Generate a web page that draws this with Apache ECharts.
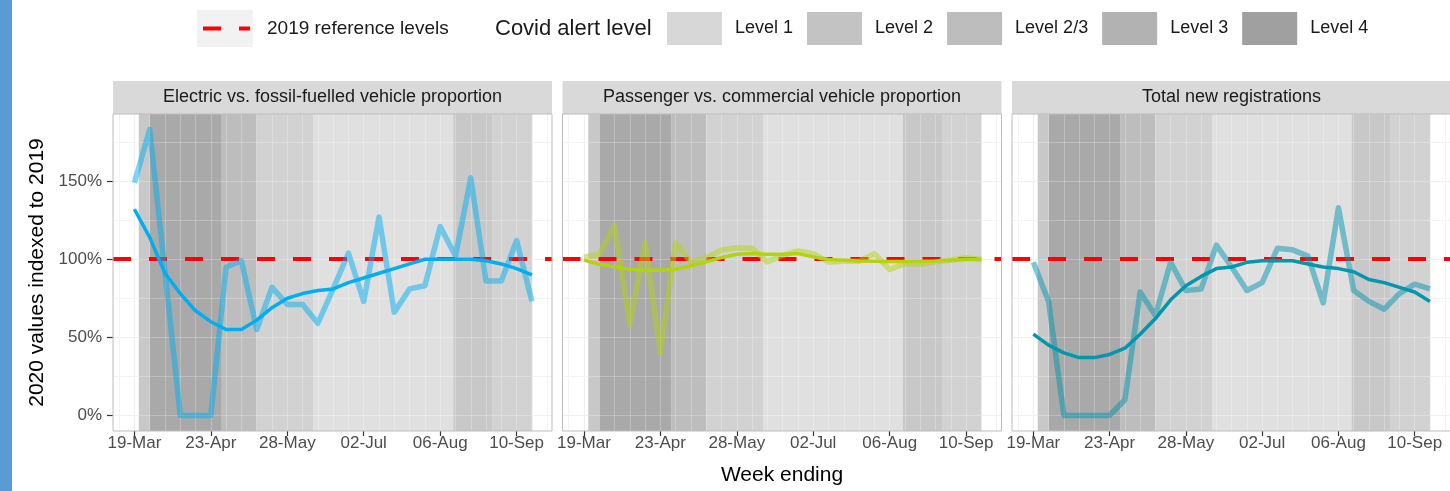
<!DOCTYPE html>
<html>
<head>
<meta charset="utf-8">
<script src="https://cdn.jsdelivr.net/npm/echarts@6/dist/echarts.min.js"></script>
<style>
  html, body { margin: 0; padding: 0; background: #fff; }
  #chart { width: 1450px; height: 491px; }
</style>
</head>
<body>
<div id="chart"></div>
<script>
// weekly observations, week ending dates
const weekEnding = [
  '2020-03-19', '2020-03-26', '2020-04-02', '2020-04-09', '2020-04-16', '2020-04-23',
  '2020-04-30', '2020-05-07', '2020-05-14', '2020-05-21', '2020-05-28', '2020-06-04',
  '2020-06-11', '2020-06-18', '2020-06-25', '2020-07-02', '2020-07-09', '2020-07-16',
  '2020-07-23', '2020-07-30', '2020-08-06', '2020-08-13', '2020-08-20', '2020-08-27',
  '2020-09-03', '2020-09-10', '2020-09-17'
]
const tickDates = ['2020-03-19', '2020-04-23', '2020-05-28', '2020-07-02', '2020-08-06', '2020-09-10']

const panelTitles = [
  'Electric vs. fossil-fuelled vehicle proportion',
  'Passenger vs. commercial vehicle proportion',
  'Total new registrations'
]

// 2020 values indexed to 2019 (%)
const evWeekly = [149, 183, 92, 0, 0, 0, 95, 99, 55, 82, 71, 71, 59, 81, 104, 73, 127, 66, 81, 83, 121, 102, 152, 86, 86, 112, 73]
const evTrend = [132, 114, 91, 78, 67, 60, 55, 55, 61, 69, 75, 78, 80, 81, 85, 88, 91, 94, 97, 100, 100, 100, 100, 99, 97, 94, 90]
const paxWeekly = [101.5, 103, 121.6, 58, 110.4, 40, 110.4, 98, 101, 106, 107.4, 107, 98.3, 102.5, 105.3, 103.6, 98.3, 98.7, 98.7, 103.6, 93.4, 97.2, 96.8, 98.3, 99.4, 101, 99.8]
const paxTrend = [99.4, 96.8, 95.1, 93.6, 93, 93, 93.6, 95.8, 98.3, 101.1, 103.2, 103.6, 103.2, 103.2, 103.6, 101.5, 99.8, 99.4, 98.9, 98.7, 98.5, 98.5, 98.7, 98.9, 99.4, 99.8, 100]
const totalWeekly = [98, 73, 0, 0, 0, 0, 10, 79, 64, 98, 80, 81, 109, 95, 80, 85, 107, 106, 102, 72, 133, 80, 73, 68, 78, 84, 81]
const totalTrend = [52, 45, 40, 37, 37, 39, 43, 52, 62, 74, 83, 89, 94, 95, 98, 99, 99, 99, 97, 95, 94, 92, 87, 85, 82, 79, 73]

const referenceLevel = 100

// covid alert level periods
const levelNames = ['Level 1', 'Level 2', 'Level 2/3', 'Level 3', 'Level 4']
const alertStart = ['2020-03-21', '2020-03-26', '2020-04-28', '2020-05-14', '2020-06-09', '2020-08-12', '2020-08-30']
const alertEnd = ['2020-03-26', '2020-04-28', '2020-05-14', '2020-06-09', '2020-08-12', '2020-08-30', '2020-09-17']
const alertLevel = ['Level 2/3', 'Level 4', 'Level 3', 'Level 2', 'Level 1', 'Level 2/3', 'Level 2']

const yLabels = [0, 50, 100, 150]
const yMinor = [25, 75, 125, 175]

// ---- styling ----
const FONT = '"Liberation Sans", Arial, sans-serif'
const shadeInPanel = { 'Level 1': '#e0e0e0', 'Level 2': '#d2d2d2', 'Level 2/3': '#c8c8c8', 'Level 3': '#bdbdbd', 'Level 4': '#a9a9a9' }
const shadeInLegend = { 'Level 1': '#d7d7d7', 'Level 2': '#c3c3c3', 'Level 2/3': '#bdbdbd', 'Level 3': '#b2b2b2', 'Level 4': '#a0a0a0' }
const lineColors = ['#00aef0', '#b4d30f', '#0096ad']

const panelLeft = [113, 562.5, 1012]
const PANEL_W = 439
const PANEL_TOP = 114
const PANEL_H = 317
const STRIP_H = 33
const X_MIN = -9.8, X_MAX = 191.2
const Y_MIN = -10, Y_MAX = 193

const t0 = Date.parse(weekEnding[0])
const dayOf = (d) => (Date.parse(d) - t0) / 864e5
const months = ['Jan', 'Feb', 'Mar', 'Apr', 'May', 'Jun', 'Jul', 'Aug', 'Sep', 'Oct', 'Nov', 'Dec']
const fmtDay = (v) => {
  const d = new Date(t0 + Math.round(v) * 864e5)
  return String(d.getUTCDate()).padStart(2, '0') + '-' + months[d.getUTCMonth()]
}

const weekDays = weekEnding.map(dayOf)
const tickDays = tickDates.map(dayOf)
const gridDays = []
for (let d = -7; d <= X_MAX; d += 7) gridDays.push(d)
const minorDays = gridDays.filter((d) => !tickDays.includes(d))

const panelData = [
  [evWeekly, evTrend],
  [paxWeekly, paxTrend],
  [totalWeekly, totalTrend]
]

const chart = echarts.init(document.getElementById('chart'))

const grids = panelLeft.map((left) => ({ left, top: PANEL_TOP, width: PANEL_W, height: PANEL_H }))

const xAxes = []
const yAxes = []
const hidden = { axisLine: { show: false, onZero: false }, axisLabel: { show: false } }

panelLeft.forEach((_, i) => {
  const xb = { gridIndex: i, type: 'value', position: 'bottom', min: X_MIN, max: X_MAX, ...hidden }
  const yb = { gridIndex: i, type: 'value', position: 'left', min: Y_MIN, max: Y_MAX, ...hidden }

  // main x axis: ticks, labels, major grid
  xAxes.push({
    ...xb,
    z: 0,
    name: i === 1 ? 'Week ending' : '',
    nameLocation: 'middle',
    nameGap: 34,
    nameTextStyle: { fontFamily: FONT, fontSize: 21, color: '#000' },
    axisTick: { show: true, customValues: tickDays, length: 5, lineStyle: { color: '#333', width: 1.2 } },
    axisLabel: { show: true, customValues: tickDays, formatter: fmtDay, margin: 4, fontFamily: FONT, fontSize: 17, color: '#4d4d4d' },
    splitLine: { show: true, lineStyle: { color: '#ebebeb', width: 1.2 } }
  })
  xAxes.push({
    ...xb, z: 0,
    axisTick: { show: false, customValues: minorDays },
    splitLine: { show: true, lineStyle: { color: '#ebebeb', width: 0.8 } }
  })
  // grid lines drawn over the alert level shading
  xAxes.push({
    ...xb, z: 1.5,
    axisTick: { show: false, customValues: gridDays },
    splitLine: { show: true, lineStyle: { color: 'rgba(255,255,255,0.25)', width: 1 } }
  })

  yAxes.push({
    ...yb,
    z: 0,
    name: i === 0 ? '2020 values indexed to 2019' : '',
    nameLocation: 'middle',
    nameGap: 65,
    nameRotate: 90,
    nameTextStyle: { fontFamily: FONT, fontSize: 21, color: '#000' },
    axisTick: { show: i === 0, customValues: yLabels, length: 6, lineStyle: { color: '#333', width: 1.2 } },
    axisLabel: { show: i === 0, customValues: yLabels, formatter: (v) => v + '%', margin: 11, fontFamily: FONT, fontSize: 17, color: '#4d4d4d' },
    splitLine: { show: true, lineStyle: { color: '#ebebeb', width: 1.2 } }
  })
  yAxes.push({
    ...yb, z: 0,
    axisTick: { show: false, customValues: yMinor },
    splitLine: { show: true, lineStyle: { color: '#ebebeb', width: 0.8 } }
  })
  yAxes.push({
    ...yb, z: 1.5,
    axisTick: { show: false, customValues: yLabels.concat(yMinor) },
    splitLine: { show: true, lineStyle: { color: 'rgba(255,255,255,0.25)', width: 1 } }
  })
})

const series = []
panelLeft.forEach((_, i) => {
  const axes = { xAxisIndex: 3 * i, yAxisIndex: 3 * i }

  levelNames.forEach((level) => {
    const areas = []
    alertLevel.forEach((lv, k) => {
      if (lv === level) areas.push([{ xAxis: dayOf(alertStart[k]) }, { xAxis: dayOf(alertEnd[k]) }])
    })
    series.push({
      ...axes,
      type: 'line',
      name: level,
      data: [],
      z: 1,
      itemStyle: { color: shadeInLegend[level] },
      lineStyle: { color: shadeInLegend[level] },
      markArea: { silent: true, z: 1, itemStyle: { color: shadeInPanel[level], opacity: 1 }, data: areas }
    })
  })

  series.push({
    ...axes,
    type: 'line',
    name: '2019 reference levels',
    data: [],
    z: 1.8,
    markLine: {
      silent: true,
      z: 1.8,
      symbol: 'none',
      label: { show: false },
      lineStyle: { color: '#ff0000', width: 4, type: [18, 18], opacity: 1 },
      data: [{ yAxis: referenceLevel }]
    }
  })

  const [weekly, trend] = panelData[i]
  series.push({
    ...axes,
    type: 'line',
    name: panelTitles[i] + ' (weekly)',
    data: weekDays.map((d, k) => [d, weekly[k]]),
    symbol: 'none',
    z: 2,
    lineStyle: { color: lineColors[i], width: 5.5, opacity: 0.5, join: 'round' }
  })
  series.push({
    ...axes,
    type: 'line',
    name: panelTitles[i] + ' (trend)',
    data: weekDays.map((d, k) => [d, trend[k]]),
    symbol: 'none',
    z: 3,
    lineStyle: { color: lineColors[i], width: 3.5, join: 'round' }
  })
})

const graphics = [
  { type: 'rect', left: 0, top: 0, shape: { width: 12, height: 491 }, style: { fill: '#5b9bd5' } }
]
panelLeft.forEach((left, i) => {
  graphics.push({
    type: 'rect', z: 10,
    shape: { x: left, y: PANEL_TOP - STRIP_H, width: PANEL_W, height: STRIP_H },
    style: { fill: '#d9d9d9' }
  })
  graphics.push({
    type: 'text', z: 11,
    style: {
      x: left + PANEL_W / 2, y: PANEL_TOP - STRIP_H / 2, text: panelTitles[i],
      align: 'center', verticalAlign: 'middle', font: '18px ' + FONT, fill: '#1a1a1a'
    }
  })
  graphics.push({
    type: 'rect', z: 10, silent: true,
    shape: { x: left, y: PANEL_TOP, width: PANEL_W, height: PANEL_H },
    style: { fill: 'none', stroke: '#bdbdbd', lineWidth: 1 }
  })
})
// legend for the reference line and the title of the alert level legend
graphics.push(
  { type: 'rect', z: 10, shape: { x: 197, y: 10, width: 56, height: 37 }, style: { fill: '#f2f2f2' } },
  { type: 'line', z: 11, shape: { x1: 203, y1: 28.5, x2: 250, y2: 28.5 }, style: { stroke: '#ff0000', lineWidth: 4, lineDash: [18, 18] } },
  { type: 'text', z: 11, style: { x: 267, y: 29, text: '2019 reference levels', verticalAlign: 'middle', font: '19px ' + FONT, fill: '#1a1a1a' } },
  { type: 'text', z: 11, style: { x: 495, y: 29, text: 'Covid alert level', verticalAlign: 'middle', font: '22px ' + FONT, fill: '#1a1a1a' } }
)

const option = {
  animation: false,
  backgroundColor: '#fff',
  legend: {
    data: levelNames,
    selectedMode: false,
    left: 667,
    top: 12,
    padding: 0,
    icon: 'rect',
    itemWidth: 55,
    itemHeight: 33,
    itemGap: 14,
    textStyle: { fontFamily: FONT, fontSize: 18, color: '#1a1a1a', padding: [3, 0, 0, 8] }
  },
  grid: grids,
  xAxis: xAxes,
  yAxis: yAxes,
  series,
  graphic: graphics
}

chart.setOption(option)
</script>
</body>
</html>
